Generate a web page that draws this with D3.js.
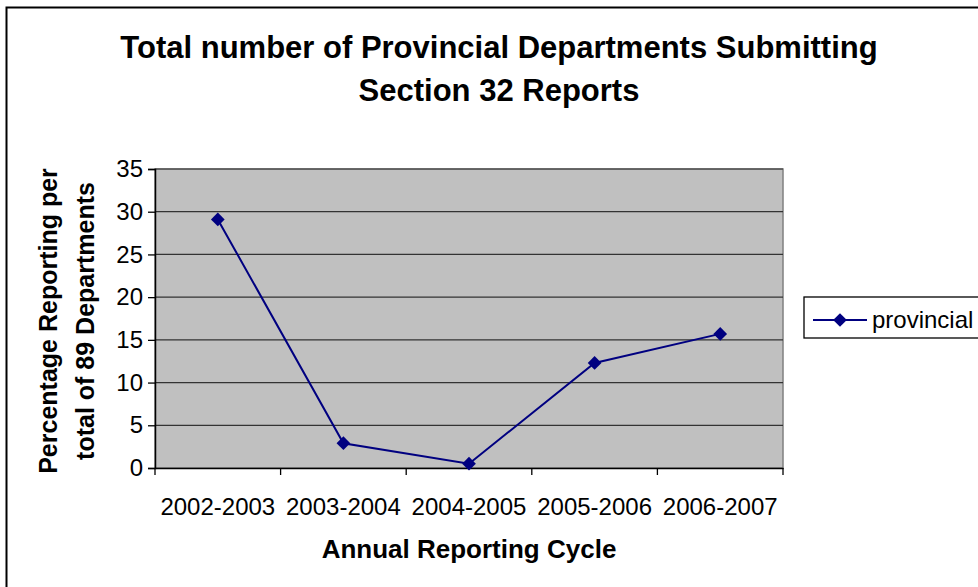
<!DOCTYPE html>
<html><head><meta charset="utf-8">
<script src="https://cdn.jsdelivr.net/npm/d3@7"></script>
<style>body{margin:0;background:#fff}svg{display:block}text{font-family:"Liberation Sans",Arial,sans-serif}</style>
</head><body>
<svg id="c" width="978" height="587"></svg>
<script>
const categories = ["2002-2003","2003-2004","2004-2005","2005-2006","2006-2007"];
const provincial = [29.1, 2.9, 0.5, 12.3, 15.7];
const yTicks = [0,5,10,15,20,25,30,35];
const seriesName = "provincial";

const svg = d3.select("#c");
const m = {left:155, right:783, top:169, bottom:468};

svg.append("rect").attr("x",6.5).attr("y",7.5).attr("width",1000).attr("height",600)
  .attr("fill","#fff").attr("stroke","#000").attr("stroke-width",2);

const x = d3.scaleBand().domain(categories).range([m.left,m.right]);
const y = d3.scaleLinear().domain([0,35]).range([m.bottom,m.top]);

svg.append("rect").attr("x",m.left).attr("y",m.top).attr("width",m.right-m.left).attr("height",m.bottom-m.top)
  .attr("fill","#c0c0c0").attr("stroke","#808080").attr("stroke-width",1.5);

svg.append("g").selectAll("line").data(yTicks.filter(d=>d>0)).join("line")
  .attr("x1",m.left).attr("x2",m.right).attr("y1",d=>y(d)).attr("y2",d=>y(d))
  .attr("stroke","#333").attr("stroke-width",1.2);

const ya = svg.append("g").attr("transform",`translate(${m.left},0)`)
  .call(d3.axisLeft(y).tickValues(yTicks).tickSize(7).tickPadding(5));
ya.select(".domain").attr("stroke","#000").attr("stroke-width",1.5);
ya.selectAll(".tick line").attr("stroke","#000").attr("stroke-width",1.3);
ya.selectAll("text").attr("font-size",24).attr("fill","#000").style("font-family","'Liberation Sans',Arial");

const xa = svg.append("g").attr("transform",`translate(0,${m.bottom})`)
  .call(d3.axisBottom(x).tickSize(0).tickPadding(0));
xa.select(".domain").attr("stroke","#000").attr("stroke-width",1.5);
xa.selectAll("text").attr("font-size",24).attr("fill","#000").attr("dy",null).attr("y",47)
  .style("font-family","'Liberation Sans',Arial");
const bounds = categories.map(c=>x(c)).concat([m.right]);
svg.append("g").selectAll("line").data(bounds).join("line")
  .attr("x1",d=>d).attr("x2",d=>d).attr("y1",m.bottom).attr("y2",m.bottom+7)
  .attr("stroke","#000").attr("stroke-width",1.3);

const cx = d=>x(d)+x.bandwidth()/2;
const line = d3.line().x((d,i)=>cx(categories[i])).y(d=>y(d));
svg.append("path").datum(provincial).attr("d",line).attr("fill","none").attr("stroke","#000080").attr("stroke-width",2);
const diamond = d3.symbol().type(d3.symbolDiamond2).size(120);
svg.append("g").selectAll("path").data(provincial).join("path")
  .attr("d",diamond).attr("transform",(d,i)=>`translate(${cx(categories[i])},${y(d)})`).attr("fill","#000080");

// Title
svg.append("text").attr("x",499).attr("y",58).attr("text-anchor","middle").attr("font-size",31).attr("font-weight","bold")
  .text("Total number of Provincial Departments Submitting");
svg.append("text").attr("x",499).attr("y",101).attr("text-anchor","middle").attr("font-size",31).attr("font-weight","bold")
  .text("Section 32 Reports");

// Axis titles
svg.append("text").attr("transform","translate(57,321) rotate(-90)").attr("text-anchor","middle").attr("font-size",25).attr("font-weight","bold")
  .text("Percentage Reporting per");
svg.append("text").attr("transform","translate(94,321) rotate(-90)").attr("text-anchor","middle").attr("font-size",25).attr("font-weight","bold")
  .text("total of 89 Departments");
svg.append("text").attr("x",469).attr("y",558).attr("text-anchor","middle").attr("font-size",26).attr("font-weight","bold")
  .text("Annual Reporting Cycle");

// Legend
const lg = svg.append("g");
lg.append("rect").attr("x",804).attr("y",297).attr("width",200).attr("height",41).attr("fill","#fff").attr("stroke","#000").attr("stroke-width",1.3);
lg.append("line").attr("x1",813).attr("x2",867).attr("y1",320).attr("y2",320).attr("stroke","#000080").attr("stroke-width",2);
lg.append("path").attr("d",diamond).attr("transform","translate(840,320)").attr("fill","#000080");
lg.append("text").attr("x",872).attr("y",328).attr("font-size",24).text(seriesName);
</script>
</body></html>
